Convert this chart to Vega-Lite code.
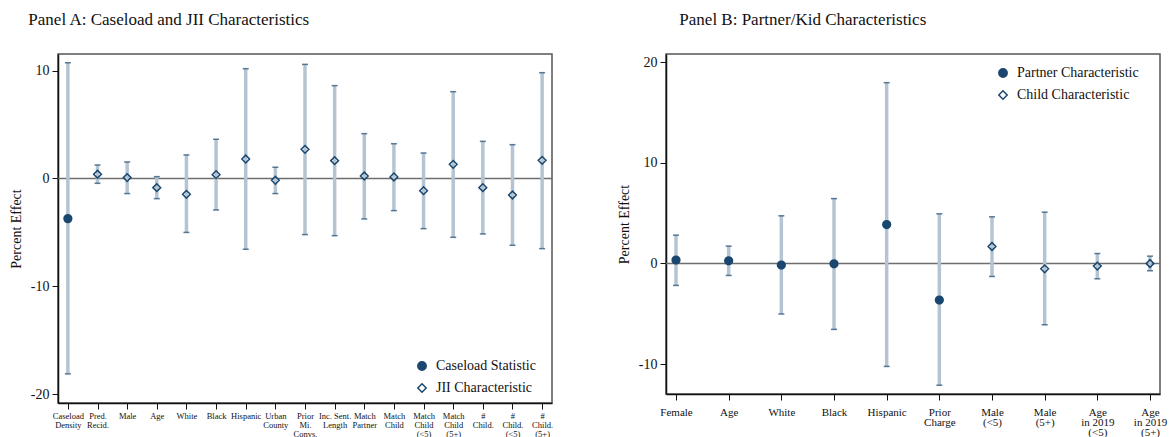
{
  "$schema": "https://vega.github.io/schema/vega-lite/v6.json",
  "padding": {"left": 8, "top": 10, "right": 0, "bottom": 0},
  "background": "white",
  "config": {
    "font": "Liberation Serif",
    "view": {"stroke": "#555555", "strokeWidth": 1.5},
    "axis": {"grid": false, "domainColor": "#111111", "domainWidth": 1.5, "tickColor": "#111111", "tickWidth": 1, "tickSize": 6, "labelColor": "#111111", "titleColor": "#111111", "labelFont": "Liberation Serif", "titleFont": "Liberation Serif", "titleFontWeight": "normal"},
    "title": {"font": "Liberation Serif", "fontSize": 17, "fontWeight": "normal", "anchor": "start", "frame": "bounds", "color": "#111111", "offset": 25},
    "legend": {"labelFont": "Liberation Serif", "labelFontSize": 14, "labelColor": "#111111", "symbolSize": 70, "symbolStrokeWidth": 1.5, "rowPadding": 6, "labelOffset": 7, "padding": 0},
    "concat": {"spacing": 62}
  },
  "datasets": {
    "A": [
      {"label": "Caseload|Density", "est": -3.72, "lo": -18.1, "hi": 10.72, "type": "Caseload Statistic"},
      {"label": "Pred.|Recid.", "est": 0.39, "lo": -0.45, "hi": 1.25, "type": "JII Characteristic"},
      {"label": "Male", "est": 0.08, "lo": -1.4, "hi": 1.53, "type": "JII Characteristic"},
      {"label": "Age", "est": -0.85, "lo": -1.87, "hi": 0.17, "type": "JII Characteristic"},
      {"label": "White", "est": -1.47, "lo": -5.0, "hi": 2.18, "type": "JII Characteristic"},
      {"label": "Black", "est": 0.35, "lo": -2.92, "hi": 3.63, "type": "JII Characteristic"},
      {"label": "Hispanic", "est": 1.8, "lo": -6.56, "hi": 10.17, "type": "JII Characteristic"},
      {"label": "Urban|County", "est": -0.17, "lo": -1.4, "hi": 1.04, "type": "JII Characteristic"},
      {"label": "Prior|Mi.|Convs.", "est": 2.7, "lo": -5.2, "hi": 10.57, "type": "JII Characteristic"},
      {"label": "Inc. Sent.|Length", "est": 1.65, "lo": -5.3, "hi": 8.6, "type": "JII Characteristic"},
      {"label": "Match|Partner", "est": 0.23, "lo": -3.75, "hi": 4.15, "type": "JII Characteristic"},
      {"label": "Match|Child", "est": 0.14, "lo": -2.98, "hi": 3.22, "type": "JII Characteristic"},
      {"label": "Match|Child|(<5)", "est": -1.13, "lo": -4.65, "hi": 2.36, "type": "JII Characteristic"},
      {"label": "Match|Child|(5+)", "est": 1.31, "lo": -5.45, "hi": 8.04, "type": "JII Characteristic"},
      {"label": "#|Child.", "est": -0.85, "lo": -5.14, "hi": 3.44, "type": "JII Characteristic"},
      {"label": "#|Child.|(<5)", "est": -1.53, "lo": -6.19, "hi": 3.13, "type": "JII Characteristic"},
      {"label": "#|Child.|(5+)", "est": 1.68, "lo": -6.5, "hi": 9.8, "type": "JII Characteristic"}
    ],
    "B": [
      {"label": "Female", "est": 0.34, "lo": -2.18, "hi": 2.82, "type": "Partner Characteristic"},
      {"label": "Age", "est": 0.27, "lo": -1.19, "hi": 1.73, "type": "Partner Characteristic"},
      {"label": "White", "est": -0.16, "lo": -5.02, "hi": 4.74, "type": "Partner Characteristic"},
      {"label": "Black", "est": -0.03, "lo": -6.55, "hi": 6.45, "type": "Partner Characteristic"},
      {"label": "Hispanic", "est": 3.87, "lo": -10.23, "hi": 17.97, "type": "Partner Characteristic"},
      {"label": "Prior|Charge", "est": -3.63, "lo": -12.1, "hi": 4.94, "type": "Partner Characteristic"},
      {"label": "Male|(<5)", "est": 1.69, "lo": -1.29, "hi": 4.64, "type": "Child Characteristic"},
      {"label": "Male|(5+)", "est": -0.53, "lo": -6.09, "hi": 5.1, "type": "Child Characteristic"},
      {"label": "Age|in 2019|(<5)", "est": -0.26, "lo": -1.52, "hi": 0.99, "type": "Child Characteristic"},
      {"label": "Age|in 2019|(5+)", "est": 0.0, "lo": -0.72, "hi": 0.73, "type": "Child Characteristic"}
    ]
  },
  "resolve": {"scale": {"shape": "independent", "fill": "independent", "stroke": "independent"}, "legend": {"shape": "independent", "fill": "independent", "stroke": "independent"}},
  "hconcat": [
    {
      "title": {"text": "Panel A: Caseload and JII Characteristics", "dx": 19},
      "width": 494,
      "height": 349,
      "data": {"name": "A"},
      "layer": [
        {
          "data": {"values": [{"zero": 0}]},
          "mark": {"type": "rule", "color": "#6e6e6e", "strokeWidth": 1.5},
          "encoding": {"y": {"field": "zero", "type": "quantitative", "scale": {"domain": [-20.8, 11.53], "nice": false, "zero": false}, "axis": {"title": "Percent Effect", "values": [-20, -10, 0, 10], "labelExpr": "datum.value + ''", "labelFontSize": 14, "titleFontSize": 14, "titlePadding": 7, "labelPadding": 3}}}
        },
        {
          "mark": {"type": "rule", "color": "#b4c4d2", "strokeWidth": 3.5},
          "encoding": {
            "x": {"field": "label", "type": "ordinal", "sort": null, "scale": {"type": "point", "padding": 0.333}, "axis": {"title": null, "labelAngle": 0, "labelExpr": "split(datum.label, '|')", "labelFontSize": 8.5, "labelLineHeight": 9, "labelPadding": 2, "labelBaseline": "top"}},
            "y": {"field": "lo", "type": "quantitative"},
            "y2": {"field": "hi"}
          }
        },
        {
          "mark": {"type": "tick", "orient": "horizontal", "color": "#1a476f", "size": 6, "thickness": 1.5},
          "encoding": {"x": {"field": "label", "type": "ordinal", "sort": null}, "y": {"field": "hi", "type": "quantitative"}}
        },
        {
          "mark": {"type": "tick", "orient": "horizontal", "color": "#1a476f", "size": 6, "thickness": 1.5},
          "encoding": {"x": {"field": "label", "type": "ordinal", "sort": null}, "y": {"field": "lo", "type": "quantitative"}}
        },
        {
          "mark": {"type": "point", "filled": true, "strokeWidth": 1.5, "size": 60, "opacity": 1},
          "encoding": {
            "x": {"field": "label", "type": "ordinal", "sort": null},
            "y": {"field": "est", "type": "quantitative"},
            "shape": {"field": "type", "type": "nominal", "scale": {"domain": ["Caseload Statistic", "JII Characteristic"], "range": ["circle", "diamond"]}, "legend": {"title": null, "orient": "none", "legendX": 357, "legendY": 305}},
            "fill": {"field": "type", "type": "nominal", "scale": {"domain": ["Caseload Statistic", "JII Characteristic"], "range": ["#1a476f", "transparent"]}, "legend": {"title": null, "orient": "none", "legendX": 357, "legendY": 305}},
            "stroke": {"field": "type", "type": "nominal", "scale": {"domain": ["Caseload Statistic", "JII Characteristic"], "range": ["#1a476f", "#1a476f"]}, "legend": {"title": null, "orient": "none", "legendX": 357, "legendY": 305}}
          }
        }
      ]
    },
    {
      "title": {"text": "Panel B: Partner/Kid Characteristics", "dx": 62},
      "width": 494,
      "height": 340,
      "data": {"name": "B"},
      "layer": [
        {
          "data": {"values": [{"zero": 0}]},
          "mark": {"type": "rule", "color": "#6e6e6e", "strokeWidth": 1.5},
          "encoding": {"y": {"field": "zero", "type": "quantitative", "scale": {"domain": [-12.97, 20.82], "nice": false, "zero": false}, "axis": {"title": "Percent Effect", "values": [-10, 0, 10, 20], "labelExpr": "datum.value + ''", "labelFontSize": 14, "titleFontSize": 14, "titlePadding": 7, "labelPadding": 3}}}
        },
        {
          "mark": {"type": "rule", "color": "#b4c4d2", "strokeWidth": 3.5},
          "encoding": {
            "x": {"field": "label", "type": "ordinal", "sort": null, "scale": {"type": "point", "padding": 0.19}, "axis": {"title": null, "labelAngle": 0, "labelExpr": "split(datum.label, '|')", "labelFontSize": 11, "labelLineHeight": 10, "labelPadding": 6, "labelBaseline": "top"}},
            "y": {"field": "lo", "type": "quantitative"},
            "y2": {"field": "hi"}
          }
        },
        {
          "mark": {"type": "tick", "orient": "horizontal", "color": "#1a476f", "size": 6, "thickness": 1.5},
          "encoding": {"x": {"field": "label", "type": "ordinal", "sort": null}, "y": {"field": "hi", "type": "quantitative"}}
        },
        {
          "mark": {"type": "tick", "orient": "horizontal", "color": "#1a476f", "size": 6, "thickness": 1.5},
          "encoding": {"x": {"field": "label", "type": "ordinal", "sort": null}, "y": {"field": "lo", "type": "quantitative"}}
        },
        {
          "mark": {"type": "point", "filled": true, "strokeWidth": 1.5, "size": 60, "opacity": 1},
          "encoding": {
            "x": {"field": "label", "type": "ordinal", "sort": null},
            "y": {"field": "est", "type": "quantitative"},
            "shape": {"field": "type", "type": "nominal", "scale": {"domain": ["Partner Characteristic", "Child Characteristic"], "range": ["circle", "diamond"]}, "legend": {"title": null, "orient": "none", "legendX": 330, "legendY": 12}},
            "fill": {"field": "type", "type": "nominal", "scale": {"domain": ["Partner Characteristic", "Child Characteristic"], "range": ["#1a476f", "transparent"]}, "legend": {"title": null, "orient": "none", "legendX": 330, "legendY": 12}},
            "stroke": {"field": "type", "type": "nominal", "scale": {"domain": ["Partner Characteristic", "Child Characteristic"], "range": ["#1a476f", "#1a476f"]}, "legend": {"title": null, "orient": "none", "legendX": 330, "legendY": 12}}
          }
        }
      ]
    }
  ]
}
